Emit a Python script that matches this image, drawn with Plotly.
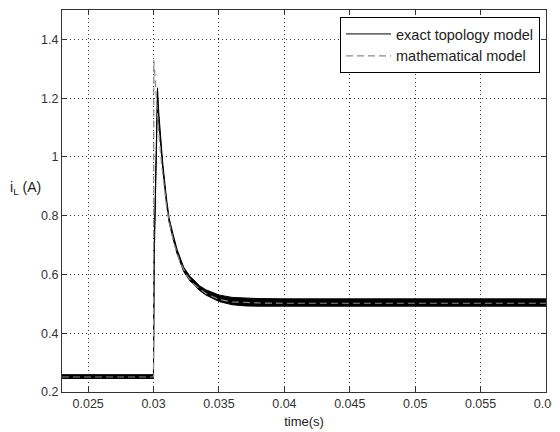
import plotly.graph_objects as go

# exact topology model: envelope of the switching-ripple band (upper / lower)
t_exact = [0.023, 0.02999, 0.03005, 0.0302, 0.0303, 0.0304, 0.0305, 0.0307, 0.031, 0.0312,
           0.0315, 0.0318, 0.0323, 0.0328, 0.033, 0.0335, 0.034, 0.035, 0.036, 0.037,
           0.038, 0.04, 0.06]
exact_upper = [0.259, 0.259, 0.70, 1.10, 1.235, 1.15, 1.09, 0.98, 0.855, 0.79,
               0.735, 0.685, 0.625, 0.592, 0.585, 0.562, 0.548, 0.53, 0.522, 0.519,
               0.518, 0.517, 0.517]
exact_lower = [0.246, 0.246, 0.65, 1.05, 1.20, 1.12, 1.06, 0.96, 0.835, 0.775,
               0.72, 0.67, 0.61, 0.577, 0.57, 0.546, 0.53, 0.508, 0.497, 0.493,
               0.492, 0.492, 0.492]

# mathematical model (dashed)
t_math = [0.023, 0.03, 0.03002, 0.0302, 0.0304, 0.0306, 0.0308, 0.031, 0.0313, 0.0316,
          0.032, 0.0325, 0.033, 0.034, 0.035, 0.036, 0.038, 0.04, 0.06]
math_i = [0.251, 0.251, 1.33, 1.20, 1.08, 0.98, 0.90, 0.83, 0.755, 0.70,
          0.645, 0.6, 0.57, 0.535, 0.515, 0.507, 0.503, 0.502, 0.502]

x_ticks = [0.025, 0.03, 0.035, 0.04, 0.045, 0.05, 0.055, 0.06]
x_labels = ["0.025", "0.03", "0.035", "0.04", "0.045", "0.05", "0.055", "0.06"]
y_ticks = [0.2, 0.4, 0.6, 0.8, 1.0, 1.2, 1.4]
y_labels = ["0.2", "0.4", "0.6", "0.8", "1", "1.2", "1.4"]

fig = go.Figure()
fig.add_trace(go.Scatter(x=t_exact, y=exact_lower, mode="lines",
                         line=dict(color="black", width=1), showlegend=False,
                         hoverinfo="skip"))
fig.add_trace(go.Scatter(x=t_exact, y=exact_upper, mode="lines", fill="tonexty",
                         fillcolor="black", line=dict(color="black", width=1),
                         showlegend=False))
# legend entries
fig.add_trace(go.Scatter(x=[None], y=[None], mode="lines", name="exact topology model",
                         line=dict(color="black", width=1)))
fig.add_trace(go.Scatter(x=t_math, y=math_i, mode="lines", name="mathematical model",
                         line=dict(color="#8c8c8c", width=1.2, dash="7px,4px")))

axis_common = dict(showline=True, linecolor="#333", linewidth=1, mirror="ticks",
                   ticks="inside", ticklen=5, tickcolor="#333",
                   showgrid=True, gridcolor="#333", gridwidth=1, griddash="1px,3px",
                   zeroline=False,
                   tickfont=dict(family="Arial, Liberation Sans", size=12.5, color="#333"))

# page body has an 8px default margin; the figure is sized/offset to compensate
OFF = 8
W, H = 560 - OFF, 432 - OFF
L, R, T, B = 62 - OFF, 14, 10 - OFF, 40

fig.update_layout(
    width=W, height=H,
    margin=dict(l=L, r=R, t=T, b=B),
    paper_bgcolor="white", plot_bgcolor="white",
    font=dict(family="Arial, Liberation Sans", size=12.5, color="#222"),
    xaxis=dict(range=[0.023, 0.06], tickvals=x_ticks, ticktext=x_labels,
               title=dict(text="time(s)", standoff=6, font=dict(size=13)), **axis_common),
    yaxis=dict(range=[0.2, 1.5], tickvals=y_ticks, ticktext=y_labels, **axis_common),
    legend=dict(x=1.0 - 6 / (W - L - R), y=1.0 - 7 / (H - T - B), xanchor="right", yanchor="top",
                bordercolor="black", borderwidth=1, bgcolor="white",
                font=dict(size=14.5, color="#222"), traceorder="normal",
                tracegroupgap=0, itemwidth=45),
    showlegend=True,
    annotations=[dict(text="i<sub>L</sub> (A)",
                      x=(8 - 62) / (W - L - R), y=(432 - B - 188) / (H - T - B),
                      xref="paper", yref="paper",
                      showarrow=False, font=dict(size=14, color="#222"),
                      xanchor="left", yanchor="middle")],
)

fig.write_html("out.html", config={"displayModeBar": False},
               post_script="document.documentElement.style.overflow='hidden';"
                           "document.body.style.overflow='hidden';")
